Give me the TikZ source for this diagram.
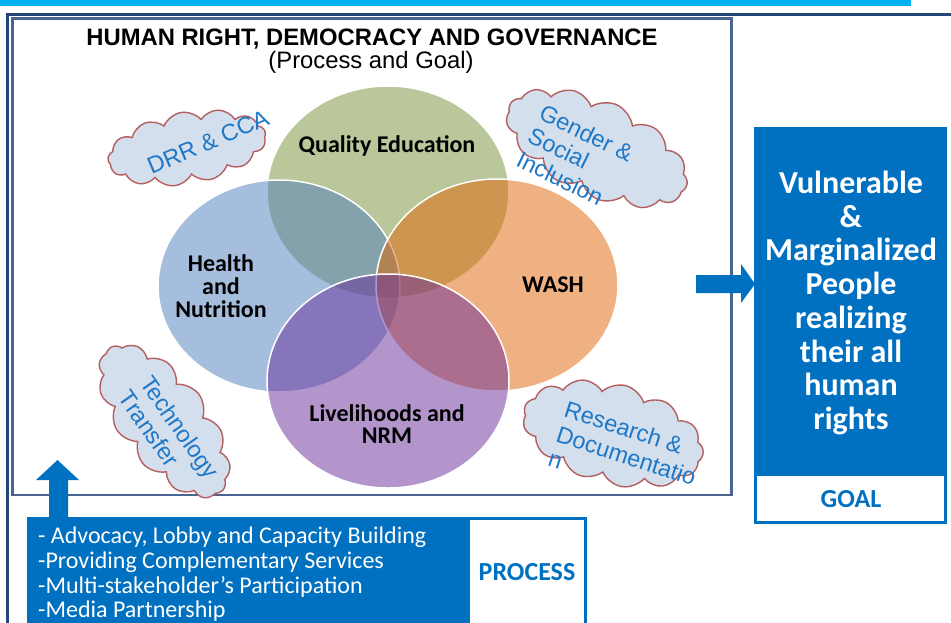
\documentclass[tikz,border=0pt]{standalone}
\usepackage{fontspec}
\setmainfont{Carlito}
\newfontfamily\arialf{Liberation Sans}
\usetikzlibrary{shapes.symbols}
\definecolor{cyanbar}{RGB}{0,176,240}
\definecolor{outerblue}{RGB}{35,70,120}
\definecolor{framegray}{RGB}{75,100,145}
\definecolor{vgreen}{RGB}{119,145,55}
\definecolor{vblue}{RGB}{79,127,189}
\definecolor{vorange}{RGB}{225,100,5}
\definecolor{vpurple}{RGB}{105,45,155}
\definecolor{cloudfill}{RGB}{212,223,238}
\definecolor{cloudedge}{RGB}{180,95,95}
\definecolor{cloudtext}{RGB}{30,120,200}
\definecolor{boxblue}{RGB}{0,112,192}
\tikzset{
  venn/.style={fill opacity=0.5, draw=white, draw opacity=1, line width=1.5pt},
  vlabel/.style={font=\bfseries\fontsize{24}{22.8}\selectfont, align=center, text=black, inner sep=0pt},
  cloudshape/.style={cloud, cloud puffs=13, cloud puff arc=115, fill=cloudfill, draw=cloudedge, line width=1.4pt, inner sep=0pt},
  cloudlabel/.style={font=\arialf\fontsize{23.5}{26}\selectfont, text=cloudtext, align=left, inner sep=0pt},
  goaltext/.style={font=\bfseries\fontsize{32}{33.7}\selectfont, text=white, align=center, inner sep=0pt},
  proctext/.style={font=\fontsize{24}{24.7}\selectfont, text=white, align=left, inner sep=0pt},
  bluelabel/.style={font=\bfseries\fontsize{26}{28}\selectfont, text=boxblue, inner sep=0pt}
}
\begin{document}
\begin{tikzpicture}[x=1pt,y=-1pt]
\useasboundingbox (0,0) rectangle (951,622);
\fill[white] (0,0) rectangle (951,622);
\fill[cyanbar] (0,0) rectangle (911,6);
\draw[outerblue, line width=2.5pt] (951,14.5) -- (7.5,14.5) -- (7.5,623);
\draw[framegray, line width=2.8pt] (12.5,18.5) rectangle (731.5,495);
% title
\node[font=\arialf\bfseries\fontsize{23.8}{26}\selectfont, inner sep=0pt] (title) at (372,39) {HUMAN RIGHT, DEMOCRACY AND GOVERNANCE};
\node[font=\arialf\fontsize{23.8}{26}\selectfont, inner sep=0pt] (subtitle) at (371,62) {(Process and Goal)};
% venn
\path[venn, fill=vgreen] (388,192) ellipse [x radius=121pt, y radius=106pt];
\path[venn, fill=vblue] (279,286) ellipse [x radius=121pt, y radius=106pt];
\path[venn, fill=vorange] (497,285) ellipse [x radius=121pt, y radius=106pt];
\path[venn, fill=vpurple] (388,381) ellipse [x radius=121pt, y radius=107pt];
\node[vlabel] (qe) at (387,146) {Quality Education};
\node[vlabel] (hn) at (221,286) {Health\\and\\Nutrition};
\node[vlabel] (wash) at (553,285) {WASH};
\node[vlabel] (liv) at (387,424) {Livelihoods and\\NRM};
% clouds
\node[cloudshape, minimum width=160pt, minimum height=72pt, rotate=10] (c1) at (187,148) {};
\node[cloudlabel, rotate=23] (t1) at (208,142) {DRR \& CCA};
\node[cloudshape, minimum width=195pt, minimum height=95pt, rotate=-25] (c2) at (597,148) {};
\node[cloudlabel, rotate=-26, anchor=north west] (t2) at (545,103) {Gender \&\\Social\\Inclusion};
\node[cloudshape, minimum width=182pt, minimum height=88pt, rotate=-52] (c3) at (164,421) {};
\node[cloudlabel, rotate=-55, anchor=north west] (t3) at (153,373) {Technology\\Transfer};
\node[cloudshape, minimum width=185pt, minimum height=100pt, rotate=-15] (c4) at (613,434) {};
\node[cloudlabel, rotate=-18, anchor=north west] (t4) at (568,400) {Research \&\\Documentatio\\n};
% goal
\fill[boxblue] (754,127) rectangle (947,524);
\fill[white] (757,476) rectangle (944,521);
\node[goaltext] (goal) at (851,303) {Vulnerable\\\&\\Marginalized\\People\\realizing\\their all\\human\\rights};
\node[bluelabel] (goallbl) at (851,499) {GOAL};
\fill[boxblue] (696,275) -- (741,275) -- (741,264) -- (755,284) -- (741,303) -- (741,293) -- (696,293) -- cycle;
% process
\fill[boxblue] (27,517) rectangle (587,623);
\fill[white] (470,520) rectangle (584,623);
\node[bluelabel] (proclbl) at (527,572) {PROCESS};
\node[proctext, anchor=north west] (proc) at (38,527) {- Advocacy, Lobby and Capacity Building\\-Providing Complementary Services\\-Multi-stakeholder’s Participation\\-Media Partnership};
\fill[boxblue] (49,518) -- (49,480) -- (36,480) -- (57.5,460) -- (79,480) -- (68,480) -- (68,518) -- cycle;
\end{tikzpicture}
\end{document}
